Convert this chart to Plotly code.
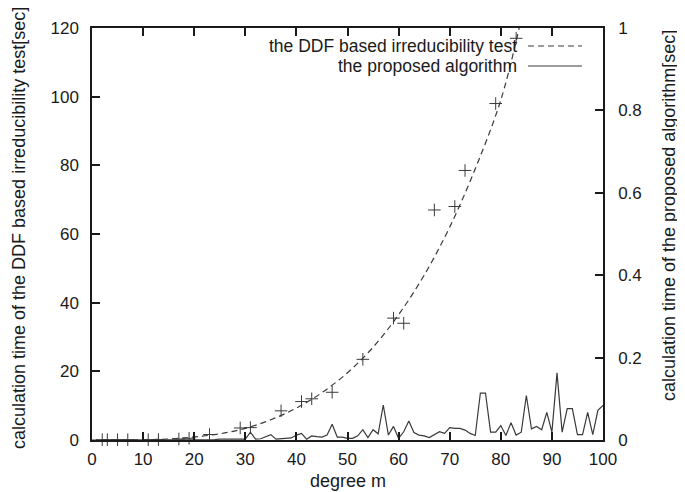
import plotly.graph_objects as go

# ---------------- data ----------------
# measured points of the DDF based irreducibility test (prime degrees)
ddf_degree = [2, 3, 5, 7, 11, 13, 17, 19, 23, 29, 31, 37, 41, 43, 47,
              53, 59, 61, 67, 71, 73, 79, 83]
ddf_time = [0.1, 0.1, 0.1, 0.1, 0.1, 0.15, 0.3, 0.5, 1.6, 3.5, 3.6, 8.5,
            11.2, 12.0, 13.9, 23.5, 35.5, 34.0, 67.0, 68.0, 78.5, 98.0, 117.0]

# dashed fitted curve, read at sample degrees
fit_degree = [0, 10, 15, 20, 25, 30, 35, 40, 45, 50, 55, 60, 65, 70, 75, 80, 83.6]
fit_time = [0, 0.1, 0.3, 0.9, 1.8, 3.4, 5.9, 9.3, 13.8, 19.6, 27.0, 36.5,
            48.0, 62.0, 79.0, 99.0, 120.0]

# proposed algorithm (right axis, seconds), degrees 2..100
prop_degree = list(range(2, 101))
prop_time = [
    0.000, 0.000, 0.000, 0.000, 0.000, 0.000, 0.000, 0.001,   # 2-9
    0.001, 0.001, 0.001, 0.001, 0.001, 0.001, 0.001, 0.001,   # 10-17
    0.001, 0.001, 0.001, 0.001, 0.001, 0.001, 0.001, 0.002,   # 18-25
    0.002, 0.002, 0.002, 0.002, 0.002,                        # 26-30
    0.019, 0.002, 0.003, 0.008, 0.013, 0.002, 0.003, 0.004,   # 31-38
    0.005, 0.012, 0.016, 0.002, 0.010, 0.008, 0.007, 0.012,   # 39-46
    0.038, 0.007, 0.007, 0.004, 0.004, 0.010, 0.025, 0.006,   # 47-54
    0.025, 0.015, 0.085, 0.012, 0.033, 0.004, 0.020, 0.046,   # 55-62
    0.018, 0.012, 0.010, 0.006, 0.014, 0.020, 0.016, 0.030,   # 63-70
    0.028, 0.028, 0.024, 0.016, 0.011, 0.114, 0.114, 0.019,   # 71-78
    0.019, 0.035, 0.011, 0.042, 0.012, 0.019, 0.108, 0.027,   # 79-86
    0.033, 0.025, 0.067, 0.019, 0.163, 0.019, 0.076, 0.076,   # 87-94
    0.013, 0.013, 0.067, 0.013, 0.072, 0.084,                 # 95-100
]

x_ticks = [0, 10, 20, 30, 40, 50, 60, 70, 80, 90, 100]
y_ticks = [0, 20, 40, 60, 80, 100, 120]
y2_ticks = [0, 0.2, 0.4, 0.6, 0.8, 1]
y2_labels = ["0", "0.2", "0.4", "0.6", "0.8", "1"]

legend_names = ["the DDF based irreducibility test", "the proposed algorithm"]
x_title = "degree m"
y_title = "calculation time of the DDF based irreducibility test[sec]"
y2_title = "calculation time of the proposed algorithm[sec]"

# ---------------- figure ----------------
FONT = "Liberation Sans, Arial, sans-serif"
INK = "#1a1a1a"
LINE = "#3a3a3a"

OFF = 8                      # page body margin
W, H = 685 - OFF, 492 - OFF
L, T = 92 - OFF, 28 - OFF
PW, PH = 511, 412
R, B = W - L - PW, H - T - PH


def px(xp):
    return (xp - OFF - L) / PW


def py(yp):
    return 1 - (yp - OFF - T) / PH


fig = go.Figure()

fig.add_trace(go.Scatter(
    x=fit_degree, y=fit_time, mode="lines", line_shape="spline",
    line=dict(color=LINE, width=1.2, dash="6px,4px"),
    showlegend=False, hoverinfo="skip"))

fig.add_trace(go.Scatter(
    x=ddf_degree, y=ddf_time, mode="markers",
    marker=dict(symbol="cross-thin", size=9, line=dict(color=LINE, width=1)),
    showlegend=False, cliponaxis=False))

fig.add_trace(go.Scatter(
    x=prop_degree, y=prop_time, mode="lines", yaxis="y2",
    line=dict(color=LINE, width=1.2),
    showlegend=False))

axis_common = dict(
    showgrid=False, zeroline=False, showline=True, linecolor=INK, linewidth=1.5,
    ticks="inside", ticklen=8, tickwidth=1.5, tickcolor=INK,
    tickfont=dict(family=FONT, size=17, color=INK),
)

fig.update_layout(
    width=W, height=H,
    margin=dict(l=L, r=R, t=T, b=B, pad=0),
    paper_bgcolor="white", plot_bgcolor="white",
    showlegend=False,
    xaxis=dict(range=[0, 100], tickvals=x_ticks, mirror="ticks",
               ticklabelstandoff=3, **axis_common),
    yaxis=dict(range=[0, 120], tickvals=y_ticks, mirror=False,
               ticklabelstandoff=8, **axis_common),
    yaxis2=dict(range=[0, 1], tickvals=y2_ticks, ticktext=y2_labels,
                overlaying="y", side="right", ticklabelstandoff=10,
                **axis_common),
)

# titles
fig.add_annotation(text=x_title, xref="paper", yref="paper",
                   x=px(348), y=py(481), xanchor="center", yanchor="middle",
                   showarrow=False, font=dict(family=FONT, size=18, color=INK))
fig.add_annotation(text=y_title, xref="paper", yref="paper",
                   x=px(19), y=py(228), xanchor="center", yanchor="middle",
                   showarrow=False, textangle=-90,
                   font=dict(family=FONT, size=18, color=INK))
fig.add_annotation(text=y2_title, xref="paper", yref="paper",
                   x=px(669), y=py(216), xanchor="center", yanchor="middle",
                   showarrow=False, textangle=-90,
                   font=dict(family=FONT, size=18, color=INK))

# legend (gnuplot style: text right-aligned, sample on the right)
leg_y = [46, 66]
leg_dash = ["6px,4px", "solid"]
for name, yy, dsh in zip(legend_names, leg_y, leg_dash):
    fig.add_annotation(text=name, xref="paper", yref="paper",
                       x=px(519), y=py(yy), xanchor="right", yanchor="middle",
                       showarrow=False,
                       font=dict(family=FONT, size=17.5, color=INK))
    fig.add_shape(type="line", xref="paper", yref="paper",
                  x0=px(528), x1=px(582), y0=py(yy), y1=py(yy),
                  line=dict(color=LINE, width=1.2, dash=dsh))

fig.write_html("out.html")
